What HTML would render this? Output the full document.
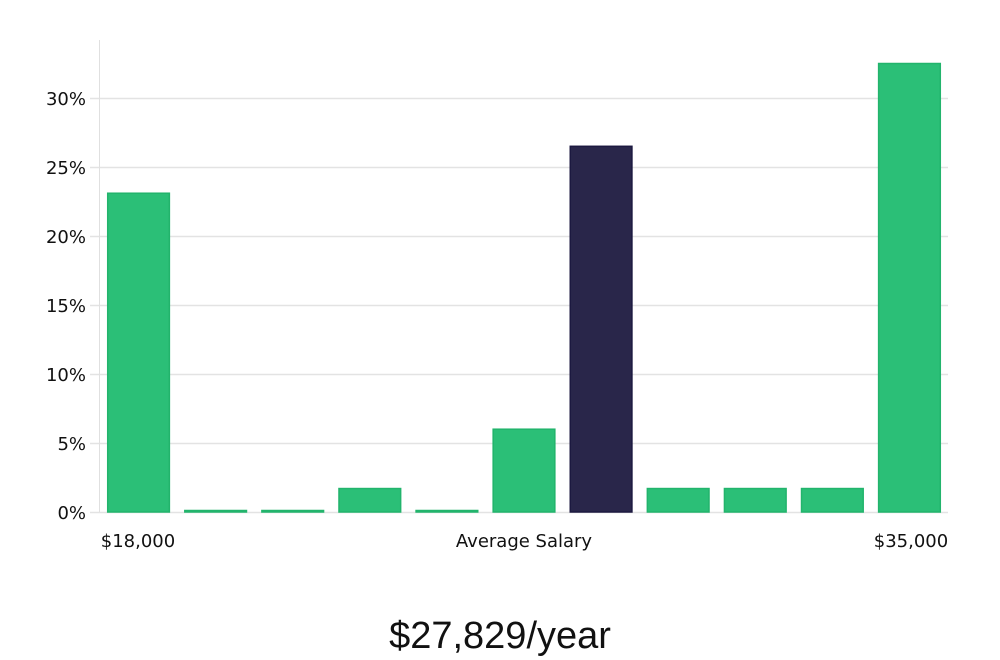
<!DOCTYPE html>
<html><head><meta charset="utf-8"><style>
body{margin:0;background:#fff}
svg{display:block;font-family:"DejaVu Sans","Liberation Sans",sans-serif}
</style></head><body>
<svg id="chart" width="1000" height="660" viewBox="0 0 1000 660">
<g id="grid"></g><g id="bars"></g><g id="labels"></g>
<line x1="99.5" y1="40" x2="99.5" y2="512" stroke="#e0e0e0" stroke-width="1"/>
<text x="138" y="547" font-size="18" text-anchor="middle" fill="#111">$18,000</text>
<text x="524" y="547" font-size="18" text-anchor="middle" fill="#111">Average Salary</text>
<text x="911" y="547" font-size="18" text-anchor="middle" fill="#111">$35,000</text>
<text x="500" y="648" font-size="38" text-anchor="middle" fill="#111" font-family="Liberation Sans Narrow, Liberation Sans, sans-serif" font-weight="300">$27,829/year</text>
</svg>
<script>
const categories=["b1","b2","b3","b4","b5","b6","b7","b8","b9","b10","b11"];
const values=[23.1,0,0,1.7,0,6.0,26.5,1.7,1.7,1.7,32.5];
const highlightIndex=6;
const yTicks=[0,5,10,15,20,25,30];
const tickLabels=["0%","5%","10%","15%","20%","25%","30%"];
const NS="http://www.w3.org/2000/svg";
const x0=100,x1=948,yZero=512,pxPer=13.8;
const y=v=>yZero-v*pxPer;
const step=(x1-x0)/categories.length, bw=step*0.8;
const g=document.getElementById('grid'),b=document.getElementById('bars'),l=document.getElementById('labels');
function mk(t,a){const e=document.createElementNS(NS,t);for(const k in a)e.setAttribute(k,a[k]);return e;}
yTicks.forEach((t,i)=>{
 const ln=mk('line',{x1:90,x2:x1,y1:y(t)+.5,y2:y(t)+.5,stroke:'#e3e3e3','stroke-width':1.5});
 
 
 g.appendChild(ln);
 const tx=mk('text',{x:86,y:y(t)+7,'font-size':18,'text-anchor':'end',fill:'#111'});
 tx.textContent=tickLabels[i];
 
 
 l.appendChild(tx);
});
values.forEach((v,i)=>{
 const h=Math.max(v*pxPer,1.5);
 const hi=i===highlightIndex;
 const r=mk('rect',{x:x0+i*step+(step-bw)/2,y:yZero-h,width:bw,height:h,fill:hi?'#29264a':'#2bbf77',stroke:hi?'#1c1940':'#22b46c','stroke-width':1.5});
 
 
 b.appendChild(r);
});
</script>
</body></html>
